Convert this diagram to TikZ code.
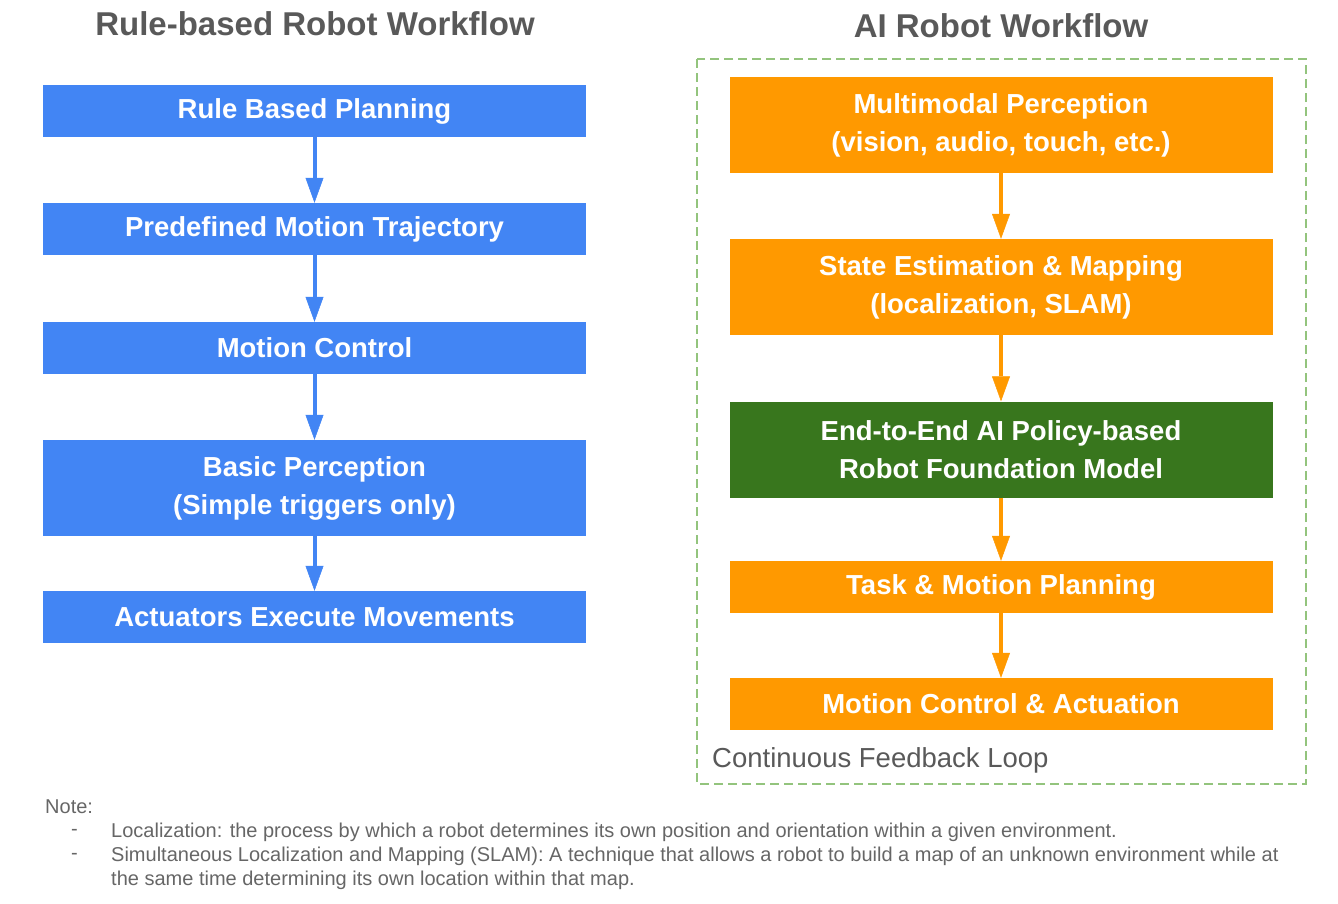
\documentclass[tikz,border=0pt]{standalone}
\usepackage{fontspec}
\setmainfont{Liberation Sans}
\usetikzlibrary{arrows.meta}

\definecolor{ruleblue}{HTML}{4285F4}
\definecolor{aiorange}{HTML}{FF9900}
\definecolor{aigreen}{HTML}{38761D}
\definecolor{loopgreen}{HTML}{93C47D}
\definecolor{titlegray}{HTML}{595959}
\definecolor{notegray}{HTML}{666666}

\tikzset{
	block/.style={rectangle,minimum width=543pt,minimum height=52pt,inner sep=0pt,
		text=white,align=center,font=\fontsize{27.5}{38}\selectfont\bfseries},
	tall/.style={minimum height=96pt},
	title/.style={text=titlegray,font=\fontsize{33}{38}\selectfont\bfseries},
	notetext/.style={anchor=west,inner sep=0pt,text=notegray,font=\fontsize{20}{24}\selectfont}
}

\begin{document}
\begin{tikzpicture}[x=1pt,y=-1pt]
\useasboundingbox (0,0) rectangle (1338,903);

\node[title] (ruletitle) at (315,24) {Rule-based Robot Workflow};
\node[title] (aititle) at (1001,26) {AI Robot Workflow};

\draw[loopgreen,line width=1.5pt,dash pattern=on 9pt off 5pt] (697,59) rectangle (1306,784);

\begin{scope}[every node/.style={block,fill=ruleblue}]
	\node (r1) at (314.5,111) {Rule Based Planning};
	\node (r2) at (314.5,229) {Predefined Motion Trajectory};
	\node (r3) at (314.5,348) {Motion Control};
	\node[tall] (r4) at (314.5,488) {Basic Perception\\(Simple triggers only)};
	\node (r5) at (314.5,617) {Actuators Execute Movements};
\end{scope}

\begin{scope}[every node/.style={block,fill=aiorange}]
	\node[tall] (a1) at (1001,125) {Multimodal Perception\\(vision, audio, touch, etc.)};
	\node[tall] (a2) at (1001,287) {State Estimation \& Mapping\\(localization, SLAM)};
	\node[tall,fill=aigreen] (a3) at (1001,449.5) {End-to-End AI Policy-based\\Robot Foundation Model};
	\node (a4) at (1001,587) {Task \& Motion Planning};
	\node (a5) at (1001,704) {Motion Control \& Actuation};
\end{scope}

\begin{scope}[>={Triangle[width=18pt,length=25pt,line width=0.5pt]},line width=4pt]
	\path [->,color=ruleblue] (r1) edge (r2) (r2) edge (r3) (r3) edge (r4) (r4) edge (r5);
	\path [->,color=aiorange] (a1) edge (a2) (a2) edge (a3) (a3) edge (a4) (a4) edge (a5);
\end{scope}

\node[anchor=west,inner sep=0pt,text=titlegray,font=\fontsize{27.5}{32}\selectfont] (loop) at (712,760) {Continuous Feedback Loop};

\node[notetext] (note) at (45,807) {Note:};
\node[notetext] (dash1) at (71,832) {-};
\node[notetext] (item1) at (111,832) {Localization: the process by which a robot determines its own position and orientation within a given environment.};
\node[notetext] (dash2) at (71,856) {-};
\node[notetext] (item2) at (111,856) {Simultaneous Localization and Mapping (SLAM): A technique that allows a robot to build a map of an unknown environment while at};
\node[notetext] (item2b) at (111,880) {the same time determining its own location within that map.};

\end{tikzpicture}
\end{document}
